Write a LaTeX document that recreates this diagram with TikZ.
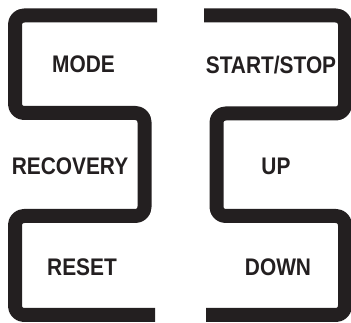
\documentclass[tikz,border=0pt]{standalone}
\usepackage{fontspec}
\newfontfamily\keyfont[FakeStretch=0.87]{Liberation Sans Bold}
\definecolor{ink}{HTML}{231F20}
\begin{document}
\begin{tikzpicture}[x=1pt,y=-1pt,
  frame/.style={draw=ink,line width=14pt,rounded corners=9pt,line cap=butt,line join=round},
  keylabel/.style={text=ink,font=\keyfont\fontsize{24}{25}\selectfont,inner sep=0pt,anchor=center}]
\useasboundingbox (0,0) rectangle (351,323);
\coordinate (l0) at (157,15.5);
\coordinate (l7) at (155,315);
\coordinate (r0) at (204,15.5);
\coordinate (r7) at (206,315);
\draw[frame] (l0) -- (15,15.5) -- (15,113) -- (144.5,113) -- (144.5,216) -- (15,216) -- (15,315) -- (l7);
\draw[frame] (r0) -- (345,15.5) -- (345,113.5) -- (216.5,113.5) -- (216.5,216) -- (345,216) -- (345,315) -- (r7);
\node[keylabel] (mode) at (83.5,64.5) {MODE};
\node[keylabel] (rec) at (70,166.3) {RECOVERY};
\node[keylabel] (reset) at (82,267) {RESET};
\node[keylabel] (ss) at (271,65.5) {START/STOP};
\node[keylabel] (up) at (276,166) {UP};
\node[keylabel] (down) at (278,267.5) {DOWN};
\end{tikzpicture}
\end{document}
